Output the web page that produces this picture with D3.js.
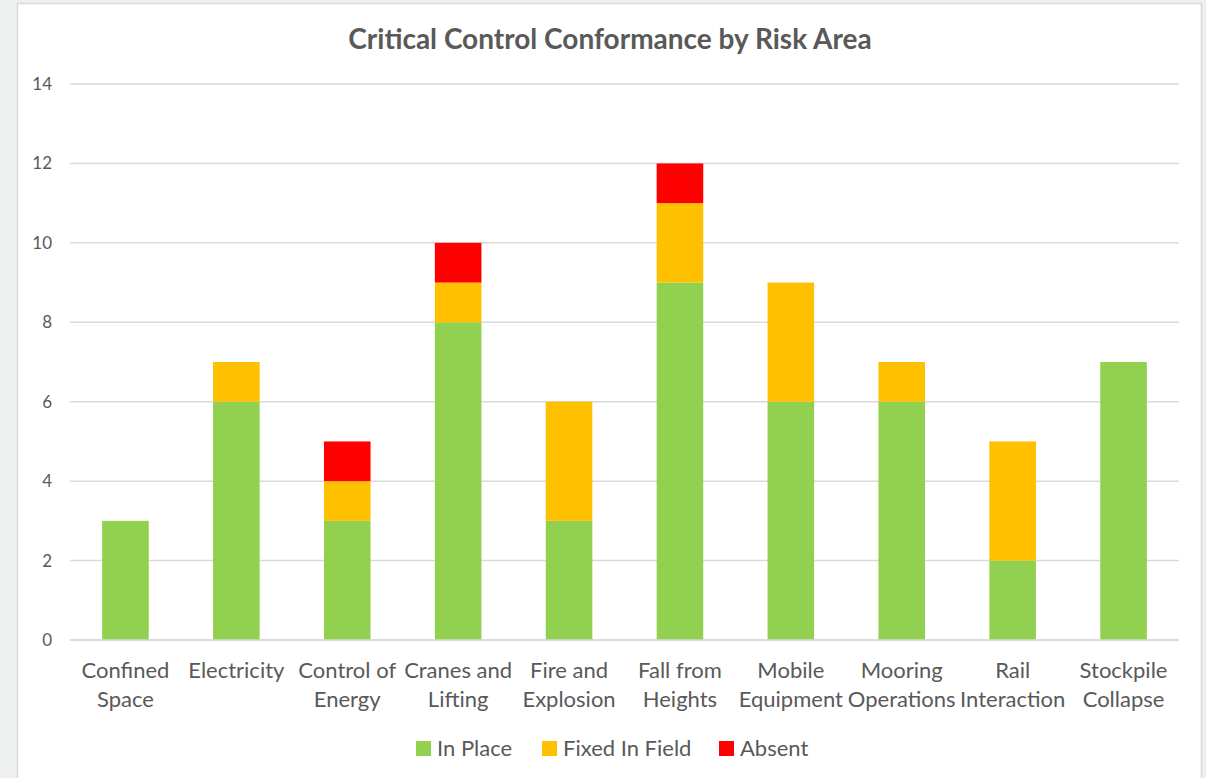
<!DOCTYPE html>
<html>
<head>
<meta charset="utf-8">
<script src="https://cdn.jsdelivr.net/npm/d3@7"></script>
<style>
  html, body { margin: 0; padding: 0; background: #eef0ef; }
  svg { display: block; }
</style>
</head>
<body>
<svg id="chart" width="1206" height="778"></svg>
<script>
// Risk areas and their wrapped axis labels
const categories = [
  "Confined Space", "Electricity", "Control of Energy", "Cranes and Lifting",
  "Fire and Explosion", "Fall from Heights", "Mobile Equipment",
  "Mooring Operations", "Rail Interaction", "Stockpile Collapse"
];
const categoryLines = [
  ["Confined", "Space"], ["Electricity"], ["Control of", "Energy"],
  ["Cranes and", "Lifting"], ["Fire and", "Explosion"], ["Fall from", "Heights"],
  ["Mobile", "Equipment"], ["Mooring", "Operations"], ["Rail", "Interaction"],
  ["Stockpile", "Collapse"]
];

// Series values (count of critical controls)
const inPlace      = [3, 6, 3, 8, 3, 9, 6, 6, 2, 7];
const fixedInField = [0, 1, 1, 1, 3, 2, 3, 1, 3, 0];
const absent       = [0, 0, 1, 1, 0, 1, 0, 0, 0, 0];

const seriesNames = ["In Place", "Fixed In Field", "Absent"];
const seriesColors = ["#92D050", "#FFC000", "#FF0000"];
const yTicks = [0, 2, 4, 6, 8, 10, 12, 14];

const svg = d3.select("#chart");
const font = "Lato, 'Open Sans', sans-serif";
const textColor = "#595959";

// chart frame
svg.append("rect")
  .attr("x", 17.5).attr("y", 3.5)
  .attr("width", 1184).attr("height", 790)
  .attr("fill", "#ffffff")
  .attr("stroke", "#d9d9d9").attr("stroke-width", 1.5);

const plot = { left: 70, right: 1179, top: 84, bottom: 640 };

const x = d3.scaleBand()
  .domain(categories)
  .range([plot.left, plot.right])
  .paddingInner(0.58)
  .paddingOuter(0.29);

const y = d3.scaleLinear()
  .domain([0, 14])
  .range([plot.bottom, plot.top]);

// gridlines
svg.append("g")
  .selectAll("line")
  .data(yTicks)
  .join("line")
  .attr("x1", plot.left).attr("x2", plot.right)
  .attr("y1", d => y(d)).attr("y2", d => y(d))
  .attr("stroke", "#d9d9d9").attr("stroke-width", 1.5);

// y tick labels
svg.append("g")
  .selectAll("text")
  .data(yTicks)
  .join("text")
  .attr("x", 52).attr("y", d => y(d))
  .attr("dy", "0.35em")
  .attr("text-anchor", "end")
  .attr("font-family", font).attr("font-size", 17)
  .attr("fill", textColor)
  .text(d => d);

// stacked bars
const table = categories.map((c, i) => ({
  category: c,
  "In Place": inPlace[i],
  "Fixed In Field": fixedInField[i],
  "Absent": absent[i]
}));
const stacked = d3.stack().keys(seriesNames)(table);

svg.append("g")
  .selectAll("g")
  .data(stacked)
  .join("g")
  .attr("fill", (d, i) => seriesColors[i])
  .selectAll("rect")
  .data(d => d.filter(s => s[1] > s[0]))
  .join("rect")
  .attr("x", d => x(d.data.category))
  .attr("width", x.bandwidth())
  .attr("y", d => y(d[1]))
  .attr("height", d => y(d[0]) - y(d[1]));

// x axis line over the bars' base
svg.append("line")
  .attr("x1", plot.left).attr("x2", plot.right)
  .attr("y1", y(0)).attr("y2", y(0))
  .attr("stroke", "#d9d9d9").attr("stroke-width", 1.5);

// category labels
const catG = svg.append("g");
categories.forEach((c, i) => {
  const t = catG.append("text")
    .attr("x", x(c) + x.bandwidth() / 2)
    .attr("y", 678)
    .attr("text-anchor", "middle")
    .attr("font-family", font).attr("font-size", 22)
    .attr("fill", textColor);
  categoryLines[i].forEach((line, j) => {
    t.append("tspan")
      .attr("x", x(c) + x.bandwidth() / 2)
      .attr("dy", j === 0 ? 0 : 29)
      .text(line);
  });
});

// title
svg.append("text")
  .attr("x", 610).attr("y", 49)
  .attr("text-anchor", "middle")
  .attr("font-family", font).attr("font-size", 28).attr("font-weight", "bold")
  .attr("fill", textColor)
  .text("Critical Control Conformance by Risk Area");

// legend
const legendItems = [
  { name: seriesNames[0], color: seriesColors[0], x: 416 },
  { name: seriesNames[1], color: seriesColors[1], x: 542 },
  { name: seriesNames[2], color: seriesColors[2], x: 719 }
];
const lg = svg.append("g");
legendItems.forEach(it => {
  lg.append("rect")
    .attr("x", it.x).attr("y", 741)
    .attr("width", 15).attr("height", 15)
    .attr("fill", it.color);
  lg.append("text")
    .attr("x", it.x + 21).attr("y", 756)
    .attr("font-family", font).attr("font-size", 22)
    .attr("fill", textColor)
    .text(it.name);
});
</script>
</body>
</html>
